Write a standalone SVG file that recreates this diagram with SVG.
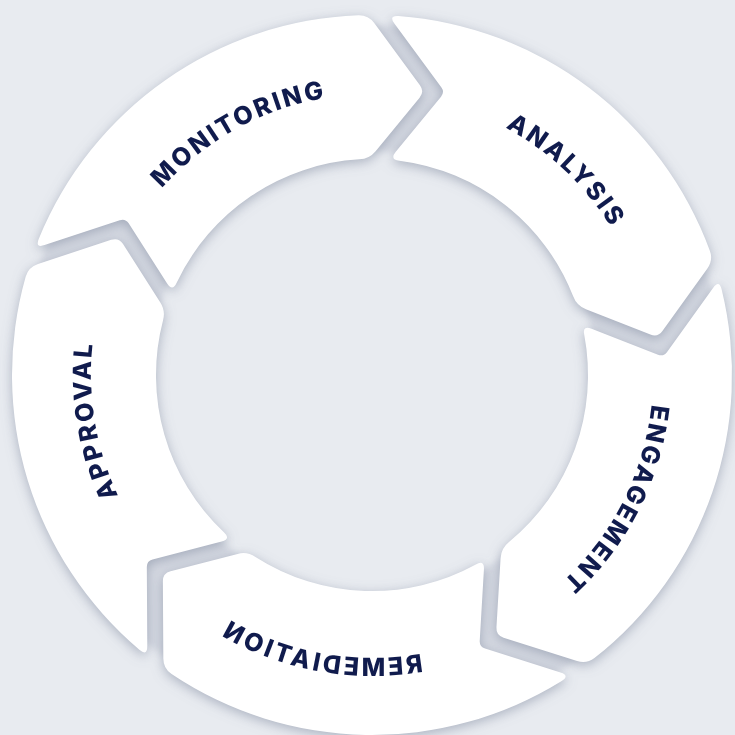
<svg xmlns="http://www.w3.org/2000/svg" width="735" height="735" viewBox="0 0 735 735">
  <defs>
    <style>
      .seg { fill: #ffffff; }
      .label { font-family: Inter, "Open Sans", "DejaVu Sans", sans-serif; font-weight: 800; font-size: 25px; letter-spacing: 2.6px; fill: #101b4d; }
      .wide { letter-spacing: 3.4px; }
    </style>
    <!-- soft shadow cast by the ring segments (shadow only, shapes drawn on top) -->
    <filter id="soft-shadow" x="-20%" y="-20%" width="140%" height="140%">
      <feGaussianBlur in="SourceAlpha" stdDeviation="6"/>
      <feOffset dx="0" dy="3" result="b"/>
      <feFlood flood-color="#7a849a" flood-opacity="0.55"/>
      <feComposite in2="b" operator="in"/>
    </filter>
    <filter id="gap-blur" x="-10%" y="-10%" width="120%" height="120%">
      <feGaussianBlur stdDeviation="3"/>
    </filter>
    <!-- one arrow segment of the cycle, centred on 12 o'clock, origin = ring centre -->
    <path id="seg" d="M -195.0 -302.6 A 360 360 0 0 1 195.2 -302.5 Q 203.5 -297.0 203.7 -287.0 L 205.5 -209.9 Q 205.7 -201.9 198.0 -199.8 L 131.3 -181.2 Q 121.7 -178.5 113.3 -183.9 A 216 216 0 0 0 -107.1 -187.6 Q -115.7 -182.5 -115.3 -192.5 L -112.35 -263.8 Q -112.1 -269.8 -117.85 -271.5 L -193.7 -294.2 Q -203.3 -297.1 -195.0 -302.6 Z"/>
    <!-- label baselines -->
    <path id="arc-out" d="M 91 375 A 281 281 0 0 1 653 375"/>
    <path id="arc-in" d="M 71 375 A 301 301 0 0 0 673 375"/>
  </defs>

  <rect width="735" height="735" fill="#e8ebf0"/>

  <!-- darker band showing through the gaps between segments -->
  <path fill="#d4d8e1" fill-rule="evenodd" filter="url(#gap-blur)"
        d="M 22 375 A 350 350 0 1 1 722 375 A 350 350 0 1 1 22 375 Z M 148 375 A 224 224 0 1 0 596 375 A 224 224 0 1 0 148 375 Z"/>

  <g id="shadows" filter="url(#soft-shadow)">
    <use href="#seg" transform="translate(372 375) rotate(-35)"/>
    <use href="#seg" transform="translate(372 375) rotate(37)"/>
    <use href="#seg" transform="translate(372 375) rotate(109)"/>
    <use href="#seg" transform="translate(372 375) rotate(181)"/>
    <use href="#seg" transform="translate(372 375) rotate(253)"/>
  </g>

  <g id="monitoring">
    <use href="#seg" class="seg" transform="translate(372 375) rotate(-35)"/>
    <text class="label" transform="rotate(-28.8 372 375)"><textPath href="#arc-out" startOffset="50%" text-anchor="middle">MONITORING</textPath></text>
  </g>

  <g id="analysis">
    <use href="#seg" class="seg" transform="translate(372 375) rotate(37)"/>
    <text class="label" transform="rotate(43.5 372 375)"><textPath href="#arc-out" startOffset="50%" text-anchor="middle">ANALYSIS</textPath></text>
  </g>

  <g id="engagement">
    <use href="#seg" class="seg" transform="translate(372 375) rotate(109)"/>
    <text class="label" transform="rotate(116.9 372 375)"><textPath href="#arc-out" startOffset="50%" text-anchor="middle">ENGAGEMENT</textPath></text>
  </g>

  <g id="remediation">
    <use href="#seg" class="seg" transform="translate(372 375) rotate(181)"/>
    <!-- mirrored label along the lower arc -->
    <text class="label wide" transform="translate(372 375) scale(-1 1) rotate(-10.4) translate(-372 -375)"><textPath href="#arc-in" startOffset="50%" text-anchor="middle">REMEDIATION</textPath></text>
  </g>

  <g id="approval">
    <use href="#seg" class="seg" transform="translate(372 375) rotate(253)"/>
    <text class="label" transform="rotate(-99.3 372 375)"><textPath href="#arc-out" startOffset="50%" text-anchor="middle">APPROVAL</textPath></text>
  </g>
</svg>
